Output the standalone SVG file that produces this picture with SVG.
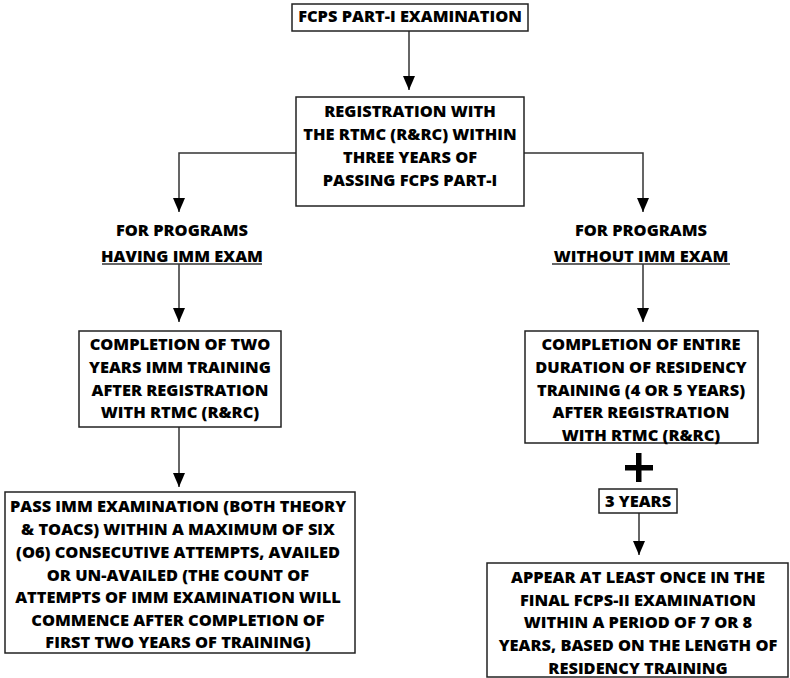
<svg xmlns="http://www.w3.org/2000/svg" width="790" height="678" viewBox="0 0 790 678">
<defs>
<style>
.box{fill:#fff;stroke:#222;stroke-width:1.5}
.t{font-family:"Open Sans","DejaVu Sans",sans-serif;font-weight:800;font-size:16.4px;fill:#000;text-anchor:middle}
.c{fill:none;stroke:#333;stroke-width:1.5}
.ul{stroke:#333;stroke-width:1.3}
</style>
</defs>
<rect width="790" height="678" fill="#fff"/>
<g id="connectors">
<path class="c" d="M409,31 V90"/>
<path d="M403,76 L415,76 L409,90 Z"/>
<path class="c" d="M296,153 H179 V212"/>
<path d="M173,198 L185,198 L179,212 Z"/>
<path class="c" d="M524,153 H643 V212"/>
<path d="M637,198 L649,198 L643,212 Z"/>
<path class="c" d="M179,264 V322"/>
<path d="M173,308 L185,308 L179,322 Z"/>
<path class="c" d="M643,264 V322"/>
<path d="M637,308 L649,308 L643,322 Z"/>
<path class="c" d="M179,427 V487"/>
<path d="M173,473 L185,473 L179,487 Z"/>
<path class="c" d="M639,513 V555"/>
<path d="M633,541 L645,541 L639,555 Z"/>
</g>
<g id="n1">
<rect class="box" x="292" y="4" width="236" height="27"/>
<text class="t" x="410" y="22">FCPS PART-I EXAMINATION</text>
</g>
<g id="n2">
<rect class="box" x="296" y="97" width="228" height="109"/>
<text class="t" x="410" y="117">REGISTRATION WITH</text>
<text class="t" x="410" y="140">THE RTMC (R&amp;RC) WITHIN</text>
<text class="t" x="410" y="163">THREE YEARS OF</text>
<text class="t" x="410" y="186">PASSING FCPS PART-I</text>
</g>
<g id="lbl-left">
<text class="t" x="182" y="236">FOR PROGRAMS</text>
<text class="t" x="182" y="262">HAVING IMM EXAM</text>
<line class="ul" x1="102" y1="264" x2="262" y2="264"/>
</g>
<g id="lbl-right">
<text class="t" x="641" y="236">FOR PROGRAMS</text>
<text class="t" x="641" y="262">WITHOUT IMM EXAM</text>
<line class="ul" x1="552" y1="264" x2="730" y2="264"/>
</g>
<g id="n3">
<rect class="box" x="79" y="331" width="202" height="96"/>
<text class="t" x="180" y="350">COMPLETION OF TWO</text>
<text class="t" x="180" y="373">YEARS IMM TRAINING</text>
<text class="t" x="180" y="396">AFTER REGISTRATION</text>
<text class="t" x="180" y="418">WITH RTMC (R&amp;RC)</text>
</g>
<g id="n4">
<rect class="box" x="5" y="492" width="350" height="161"/>
<text class="t" x="178" y="512">PASS IMM EXAMINATION (BOTH THEORY</text>
<text class="t" x="178" y="535">&amp; TOACS) WITHIN A MAXIMUM OF SIX</text>
<text class="t" x="178" y="558">(O6) CONSECUTIVE ATTEMPTS, AVAILED</text>
<text class="t" x="178" y="581">OR UN-AVAILED (THE COUNT OF</text>
<text class="t" x="178" y="603">ATTEMPTS OF IMM EXAMINATION WILL</text>
<text class="t" x="178" y="626">COMMENCE AFTER COMPLETION OF</text>
<text class="t" x="178" y="648">FIRST TWO YEARS OF TRAINING)</text>
</g>
<g id="n5">
<rect class="box" x="525" y="331" width="233" height="112"/>
<text class="t" x="641" y="350">COMPLETION OF ENTIRE</text>
<text class="t" x="641" y="373">DURATION OF RESIDENCY</text>
<text class="t" x="641" y="396">TRAINING (4 OR 5 YEARS)</text>
<text class="t" x="641" y="418">AFTER REGISTRATION</text>
<text class="t" x="641" y="441">WITH RTMC (R&amp;RC)</text>
</g>
<g id="plus">
<rect x="625" y="465" width="28" height="5.5" fill="#000"/>
<rect x="636" y="453" width="5.5" height="29" fill="#000"/>
</g>
<g id="n6">
<rect class="box" x="599" y="489" width="78" height="24"/>
<text class="t" x="638" y="507">3 YEARS</text>
</g>
<g id="n7">
<rect class="box" x="487" y="563" width="301" height="114"/>
<text class="t" x="638" y="583">APPEAR AT LEAST ONCE IN THE</text>
<text class="t" x="638" y="606">FINAL FCPS-II EXAMINATION</text>
<text class="t" x="638" y="628">WITHIN A PERIOD OF 7 OR 8</text>
<text class="t" x="638" y="651">YEARS, BASED ON THE LENGTH OF</text>
<text class="t" x="638" y="674">RESIDENCY TRAINING</text>
</g>
</svg>
